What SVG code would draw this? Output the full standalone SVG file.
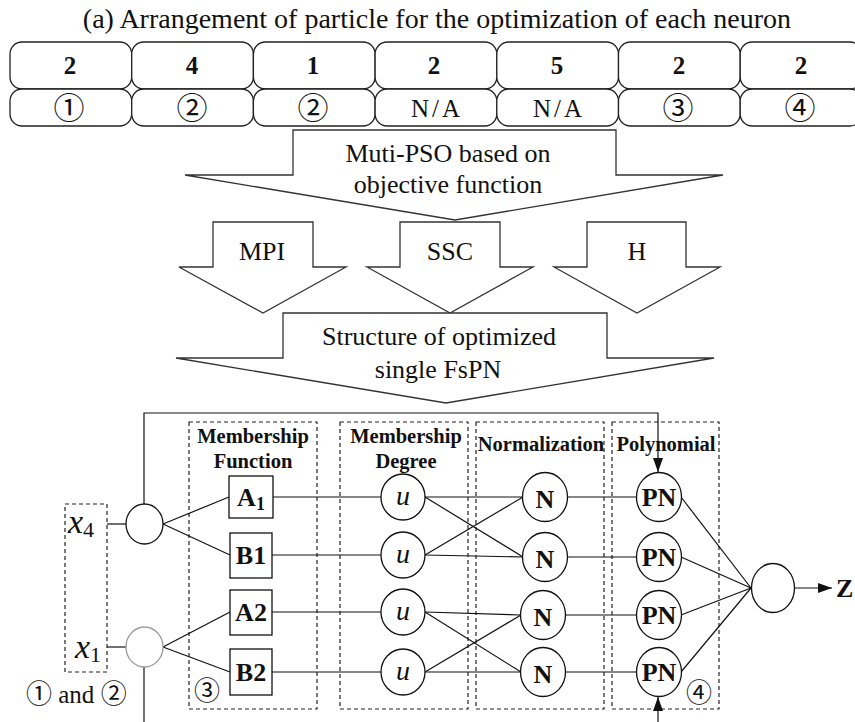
<svg xmlns="http://www.w3.org/2000/svg" width="855" height="722" viewBox="0 0 855 722">
<style>
text{font-family:"Liberation Serif","Times New Roman",serif;fill:#111}
.cell{fill:#fff;stroke:#222;stroke-width:1.3}
.blk{fill:#fff;stroke:#333;stroke-width:1.3}
.num{font-weight:bold;font-size:25px;text-anchor:middle}
.circ{font-family:"Noto Sans CJK JP","Liberation Serif",sans-serif;font-size:31px;text-anchor:middle}
.circs{font-family:"Noto Sans CJK JP","Liberation Serif",sans-serif;font-size:26px;text-anchor:middle}
.na{font-size:25px;letter-spacing:3px;text-anchor:middle}
.lbl{font-size:26px;text-anchor:middle}
.dash{fill:none;stroke:#222;stroke-width:1.2;stroke-dasharray:4,3}
.hd{font-weight:bold;font-size:20.5px;text-anchor:middle}
.node{fill:#fff;stroke:#111;stroke-width:1.3}
.box{fill:#fff;stroke:#111;stroke-width:1.3}
.bl{font-weight:bold;font-size:26px;text-anchor:middle}
.con{fill:none;stroke:#111;stroke-width:1.2}
</style>
<defs>
<marker id="ah" viewBox="0 0 14 10" refX="14" refY="5" markerWidth="14" markerHeight="10" markerUnits="userSpaceOnUse" orient="auto"><path d="M0,0 L14,5 L0,10 z" fill="#111"/></marker>
</defs>
<rect width="855" height="722" fill="#fff"/>

<text id="title" x="437" y="28" font-size="28" text-anchor="middle">(a) Arrangement of particle for the optimization of each neuron</text>

<g id="particle">
<rect class="cell" x="10" y="42" width="121.7" height="47" rx="12"/>
<rect class="cell" x="131.7" y="42" width="121.7" height="47" rx="12"/>
<rect class="cell" x="253.4" y="42" width="121.7" height="47" rx="12"/>
<rect class="cell" x="375.1" y="42" width="121.7" height="47" rx="12"/>
<rect class="cell" x="496.8" y="42" width="121.7" height="47" rx="12"/>
<rect class="cell" x="618.5" y="42" width="121.7" height="47" rx="12"/>
<rect class="cell" x="740.2" y="42" width="121.7" height="47" rx="12"/>
<rect class="cell" x="10" y="89" width="121.7" height="37" rx="12"/>
<rect class="cell" x="131.7" y="89" width="121.7" height="37" rx="12"/>
<rect class="cell" x="253.4" y="89" width="121.7" height="37" rx="12"/>
<rect class="cell" x="375.1" y="89" width="121.7" height="37" rx="12"/>
<rect class="cell" x="496.8" y="89" width="121.7" height="37" rx="12"/>
<rect class="cell" x="618.5" y="89" width="121.7" height="37" rx="12"/>
<rect class="cell" x="740.2" y="89" width="121.7" height="37" rx="12"/>
<text class="num" x="70" y="74">2</text>
<text class="num" x="192" y="74">4</text>
<text class="num" x="313" y="74">1</text>
<text class="num" x="434" y="74">2</text>
<text class="num" x="557" y="74">5</text>
<text class="num" x="679" y="74">2</text>
<text class="num" x="801" y="74">2</text>
<text class="circ" x="69" y="119">①</text>
<text class="circ" x="192" y="119">②</text>
<text class="circ" x="313" y="119">②</text>
<text class="na" x="437" y="117">N/A</text>
<text class="na" x="559" y="117">N/A</text>
<text class="circ" x="678" y="119">③</text>
<text class="circ" x="800" y="119">④</text>
</g>

<g id="arrow-mpso">
<polygon class="blk" points="293,130 616,130 616,175 723,175 455,220 185,175 293,175"/>
<text class="lbl" x="448" y="162">Muti-PSO based on</text>
<text class="lbl" x="448" y="193">objective function</text>
</g>
<g id="arrow-mpi">
<polygon class="blk" points="213,222 313,222 313,267 346,267 263,313 179,267 213,267"/>
<text class="lbl" x="262" y="260">MPI</text>
</g>
<g id="arrow-ssc">
<polygon class="blk" points="400,222 500,222 500,267 533,267 450,313 367,267 400,267"/>
<text class="lbl" x="450" y="260">SSC</text>
</g>
<g id="arrow-h">
<polygon class="blk" points="587,222 686,222 686,267 720,267 637,313 554,267 587,267"/>
<text class="lbl" x="637" y="260">H</text>
</g>
<g id="arrow-structure">
<polygon class="blk" points="283,313 607,313 607,358 714,358 446,403 176,358 283,358"/>
<text class="lbl" x="439" y="345">Structure of optimized</text>
<text class="lbl" x="438" y="378">single FsPN</text>
</g>

<g id="layer-boxes">
<rect class="dash" x="65" y="504" width="42" height="168"/>
<rect class="dash" x="189" y="422" width="128" height="287"/>
<rect class="dash" x="340" y="422" width="128" height="287"/>
<rect class="dash" x="476" y="422" width="128" height="287"/>
<rect class="dash" x="612" y="422" width="107" height="287"/>
<text class="hd" x="253" y="443">Membership</text>
<text class="hd" x="253" y="468">Function</text>
<text class="hd" x="406" y="443">Membership</text>
<text class="hd" x="406" y="468">Degree</text>
<text class="hd" x="541" y="451">Normalization</text>
<text class="hd" x="666" y="451">Polynomial</text>
<text class="circs" x="207" y="700">③</text>
<text class="circs" x="699" y="702">④</text>
<text x="26" y="703" font-size="25"><tspan font-family="Noto Sans CJK JP" font-size="26">①</tspan> and <tspan font-family="Noto Sans CJK JP" font-size="26">②</tspan></text>
</g>

<g id="connectors">
<polyline class="con" points="144,504 144,413 658,413 658,472" marker-end="url(#ah)"/>
<line class="con" x1="144" y1="667" x2="144" y2="722"/>
<line class="con" x1="658" y1="722" x2="658" y2="697" marker-end="url(#ah)"/>
<line class="con" x1="107" y1="524" x2="126" y2="524"/>
<line class="con" x1="107" y1="647" x2="126" y2="647"/>
<line class="con" x1="163" y1="524" x2="229" y2="497"/>
<line class="con" x1="163" y1="524" x2="230" y2="555"/>
<line class="con" x1="163" y1="647" x2="230" y2="612"/>
<line class="con" x1="163" y1="647" x2="230" y2="672"/>
<line class="con" x1="273" y1="497" x2="381" y2="497"/>
<line class="con" x1="272" y1="555" x2="381" y2="555"/>
<line class="con" x1="272" y1="612" x2="381" y2="612"/>
<line class="con" x1="272" y1="672" x2="381" y2="672"/>
<line class="con" x1="425" y1="497" x2="523" y2="497"/>
<line class="con" x1="425" y1="497" x2="523" y2="557"/>
<line class="con" x1="425" y1="555" x2="523" y2="497"/>
<line class="con" x1="425" y1="555" x2="523" y2="557"/>
<line class="con" x1="425" y1="612" x2="521" y2="615"/>
<line class="con" x1="425" y1="612" x2="521" y2="672"/>
<line class="con" x1="425" y1="672" x2="521" y2="615"/>
<line class="con" x1="425" y1="672" x2="521" y2="672"/>
<line class="con" x1="567" y1="497" x2="636" y2="497"/>
<line class="con" x1="567" y1="557" x2="636" y2="557"/>
<line class="con" x1="565" y1="615" x2="636" y2="615"/>
<line class="con" x1="565" y1="672" x2="636" y2="672"/>
<line class="con" x1="681" y1="497" x2="751" y2="588"/>
<line class="con" x1="681" y1="557" x2="751" y2="588"/>
<line class="con" x1="681" y1="615" x2="751" y2="588"/>
<line class="con" x1="681" y1="672" x2="751" y2="588"/>
<line class="con" x1="795" y1="588" x2="832" y2="588" marker-end="url(#ah)"/>
</g>

<g id="in-x4"><text x="68" y="533" font-size="34"><tspan font-style="italic">x</tspan><tspan font-size="22" dy="4">4</tspan></text></g>
<g id="in-x1"><text x="75" y="658" font-size="34"><tspan font-style="italic">x</tspan><tspan font-size="22" dy="4">1</tspan></text></g>
<g id="node-x4"><ellipse class="node" cx="144.5" cy="524" rx="18.5" ry="20"/></g>
<g id="node-x1"><ellipse class="node" cx="144.5" cy="647" rx="18.5" ry="20" style="stroke:#999"/></g>

<g id="mf-A1"><rect class="box" x="229" y="476" width="44" height="42"/><text class="bl" x="251" y="506">A<tspan font-size="18" dy="4">1</tspan></text></g>
<g id="mf-B1"><rect class="box" x="230" y="533" width="42" height="45"/><text class="bl" x="251" y="564">B1</text></g>
<g id="mf-A2"><rect class="box" x="230" y="590" width="42" height="45"/><text class="bl" x="251" y="621">A2</text></g>
<g id="mf-B2"><rect class="box" x="230" y="649" width="42" height="46"/><text class="bl" x="251" y="681">B2</text></g>

<g id="md-u1"><ellipse class="node" cx="403" cy="497" rx="22" ry="23"/><text x="403" y="505" font-size="28" font-style="italic" text-anchor="middle">u</text></g>
<g id="md-u2"><ellipse class="node" cx="403" cy="555" rx="22" ry="23"/><text x="403" y="563" font-size="28" font-style="italic" text-anchor="middle">u</text></g>
<g id="md-u3"><ellipse class="node" cx="403" cy="612" rx="22" ry="23"/><text x="403" y="620" font-size="28" font-style="italic" text-anchor="middle">u</text></g>
<g id="md-u4"><ellipse class="node" cx="403" cy="672" rx="22" ry="23"/><text x="403" y="680" font-size="28" font-style="italic" text-anchor="middle">u</text></g>

<g id="norm-N1"><ellipse class="node" cx="545" cy="497" rx="22.5" ry="24.5"/><text class="bl" x="545" y="508" font-size="30">N</text></g>
<g id="norm-N2"><ellipse class="node" cx="545" cy="557" rx="22.5" ry="24.5"/><text class="bl" x="545" y="568" font-size="30">N</text></g>
<g id="norm-N3"><ellipse class="node" cx="543" cy="615" rx="22.5" ry="24.5"/><text class="bl" x="543" y="626" font-size="30">N</text></g>
<g id="norm-N4"><ellipse class="node" cx="543" cy="672" rx="22.5" ry="24.5"/><text class="bl" x="543" y="683" font-size="30">N</text></g>

<g id="poly-PN1"><ellipse class="node" cx="659" cy="497" rx="22.5" ry="24.5"/><text class="bl" x="659" y="506" font-size="25">PN</text></g>
<g id="poly-PN2"><ellipse class="node" cx="659" cy="557" rx="22.5" ry="24.5"/><text class="bl" x="659" y="566" font-size="25">PN</text></g>
<g id="poly-PN3"><ellipse class="node" cx="659" cy="615" rx="22.5" ry="24.5"/><text class="bl" x="659" y="624" font-size="25">PN</text></g>
<g id="poly-PN4"><ellipse class="node" cx="659" cy="672" rx="22.5" ry="24.5"/><text class="bl" x="659" y="681" font-size="25">PN</text></g>

<g id="output"><ellipse class="node" cx="773" cy="588" rx="21.5" ry="24.5"/></g>
<g id="label-Z"><text x="836" y="597" font-size="26" font-weight="bold">Z</text></g>
</svg>
